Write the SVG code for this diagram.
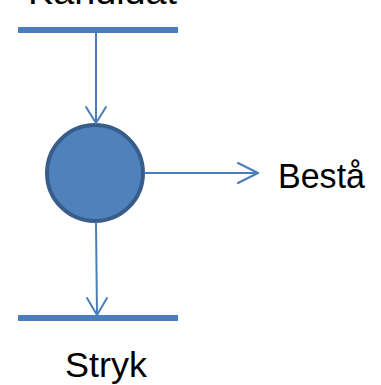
<svg xmlns="http://www.w3.org/2000/svg" width="381" height="385" viewBox="0 0 381 385">
<style>
.bar{stroke:#4A7EBB;stroke-width:6;fill:none}
.ln{stroke:#4A7EBB;stroke-width:2;fill:none;stroke-linecap:round;stroke-linejoin:round}
.lbl{font-family:"Liberation Sans",Arial,sans-serif;font-size:35px;fill:#000}
</style>
<rect width="381" height="385" fill="#fff"/>
<g id="kandidat">
<line class="bar" x1="18" y1="30" x2="178" y2="30"/>
<text class="lbl" x="28" y="4" textLength="149" lengthAdjust="spacingAndGlyphs">Kandidat</text>
</g>
<g id="node">
<circle cx="95" cy="173" r="48" fill="#4F81BD" stroke="#385D8A" stroke-width="4"/>
</g>
<g id="besta">
<text class="lbl" x="278" y="188" textLength="87" lengthAdjust="spacingAndGlyphs">Bestå</text>
</g>
<g id="stryk">
<line class="bar" x1="18" y1="318" x2="178" y2="318"/>
<text class="lbl" x="65" y="377" textLength="82" lengthAdjust="spacingAndGlyphs">Stryk</text>
</g>
<g id="connectors">
<line class="ln" x1="96" y1="30" x2="96" y2="123"/>
<path class="ln" d="M86,107 L96,123 L106,107"/>
<line class="ln" x1="145" y1="173" x2="258" y2="173"/>
<path class="ln" d="M238,163 L258,173 L238,183"/>
<line class="ln" x1="96" y1="223" x2="97" y2="315"/>
<path class="ln" d="M87,298 L97,315 L107,298"/>
</g>
</svg>
